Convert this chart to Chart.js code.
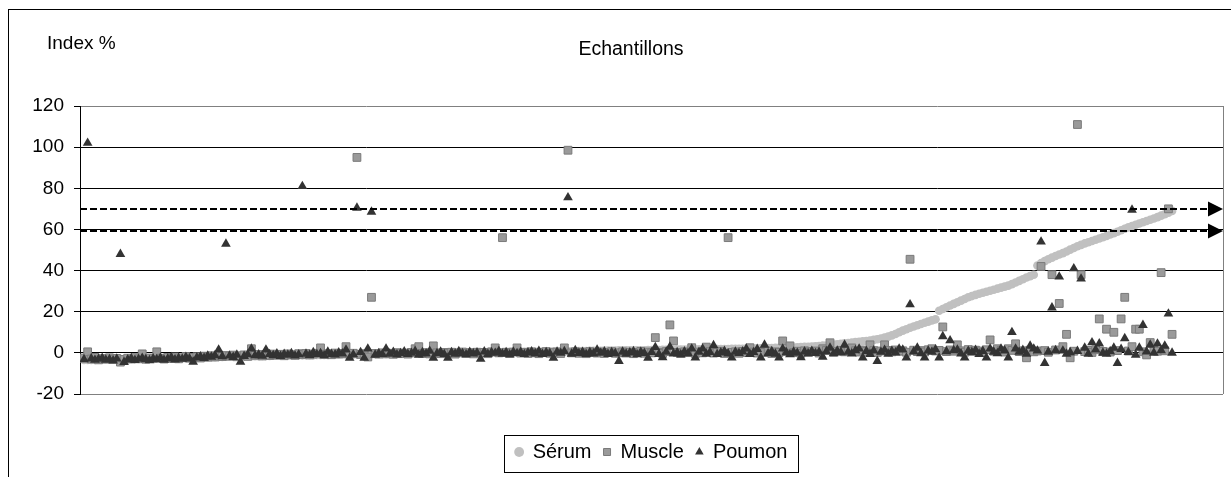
<!DOCTYPE html>
<html>
<head>
<meta charset="utf-8">
<script src="https://cdn.jsdelivr.net/npm/chart.js@4.4.0/dist/chart.umd.min.js"></script>
<style>
  html, body { margin: 0; padding: 0; background: #fff; }
  #wrap { width: 1231px; height: 477px; position: relative; }
</style>
</head>
<body>
<div id="wrap"><canvas id="myChart" width="1231" height="477"></canvas></div>
<script>
// samples 1..300, sorted by serum index
const samples = Array.from({ length: 300 }, (_, i) => i + 1);

const serum = [
  -3.5,-3.5,-3.4,-3.4,-3.3,-3.3,-3.3,-3.2,-3.2,-3.2,
  -3.1,-3.1,-3.1,-3.0,-3.0,-3.0,-2.9,-2.9,-2.9,-2.8,
  -2.8,-2.8,-2.7,-2.7,-2.6,-2.6,-2.6,-2.5,-2.5,-2.4,
  -2.4,-2.3,-2.3,-2.2,-2.2,-2.1,-2.1,-2.0,-2.0,-1.9,
  -1.9,-1.8,-1.8,-1.8,-1.7,-1.7,-1.6,-1.6,-1.6,-1.5,
  -1.5,-1.5,-1.4,-1.4,-1.4,-1.3,-1.3,-1.3,-1.2,-1.2,
  -1.2,-1.1,-1.1,-1.1,-1.0,-1.0,-1.0,-1.0,-0.9,-0.9,
  -0.9,-0.8,-0.8,-0.8,-0.8,-0.7,-0.7,-0.7,-0.6,-0.6,
  -0.6,-0.6,-0.5,-0.5,-0.5,-0.5,-0.4,-0.4,-0.4,-0.4,
  -0.3,-0.3,-0.3,-0.3,-0.2,-0.2,-0.2,-0.2,-0.1,-0.1,
  -0.1,-0.1,0.0,0.0,0.0,0.0,0.1,0.1,0.1,0.1,
  0.2,0.2,0.2,0.2,0.3,0.3,0.3,0.3,0.4,0.4,
  0.4,0.4,0.5,0.5,0.5,0.5,0.6,0.6,0.6,0.7,
  0.7,0.7,0.7,0.8,0.8,0.8,0.9,0.9,0.9,1.0,
  1.0,1.0,1.0,1.1,1.1,1.1,1.1,1.2,1.2,1.2,
  1.2,1.3,1.3,1.3,1.3,1.4,1.4,1.4,1.4,1.5,
  1.5,1.5,1.5,1.6,1.6,1.6,1.6,1.7,1.7,1.7,
  1.7,1.8,1.8,1.8,1.8,1.9,1.9,1.9,2.0,2.0,
  2.0,2.0,2.1,2.1,2.1,2.2,2.2,2.2,2.3,2.3,
  2.4,2.4,2.5,2.5,2.6,2.6,2.7,2.8,2.9,3.0,
  3.1,3.2,3.3,3.5,3.6,3.8,4.0,4.2,4.4,4.6,
  4.8,5.0,5.2,5.4,5.6,5.8,6.0,6.3,6.6,7.0,
  7.4,7.9,8.5,9.2,10.0,10.8,11.5,12.2,12.8,13.4,
  14.0,14.6,15.2,15.8,16.3,20.5,21.3,22.2,23.0,23.8,
  24.6,25.4,26.2,27.0,27.6,28.2,28.7,29.2,29.7,30.2,
  30.7,31.2,31.7,32.2,32.7,33.4,34.2,35.0,35.8,36.6,
  37.3,38.0,42.5,43.6,44.6,45.5,46.3,47.1,47.8,48.5,
  49.3,50.2,51.0,51.8,52.5,53.2,53.8,54.4,55.0,55.6,
  56.2,56.8,57.5,58.2,58.9,59.6,60.3,61.0,61.7,62.3,
  62.9,63.5,64.1,64.7,65.3,66.0,66.7,67.4,68.1,69.0
];

const muscle = [
  -2.5,0.5,-3.0,-2.2,-3.4,-2.8,-3.0,-2.4,-3.1,-2.7,
  -4.5,-3.2,-2.6,-3.0,-2.3,-2.9,-0.5,-3.1,-2.5,-2.8,
  0.5,-2.6,-3.0,-2.2,-2.7,-2.0,-2.9,-2.4,-1.8,-2.6,
  -2.2,-1.9,-2.5,-1.6,-2.1,-1.4,-2.0,-1.2,-1.8,-1.3,
  -1.6,-1.1,-1.9,-1.4,-1.0,-1.7,2.0,-1.2,-0.8,-1.5,
  -0.9,-1.3,-0.6,-1.1,-0.7,-1.4,-0.5,-0.9,-1.2,-0.4,
  -0.8,-0.3,-1.0,-0.6,-0.2,2.4,-0.7,-0.4,-0.9,-0.1,
  -0.5,-0.3,3.0,-0.6,-0.2,95,-0.8,-0.4,-2.0,27,
  -0.3,-0.6,0.0,-0.5,-0.2,-0.7,0.1,-0.4,-0.1,-0.6,
  0.2,2.0,3.0,-0.3,0.1,-0.5,3.4,0.0,-0.4,0.2,
  -0.2,0.3,-0.6,0.0,0.4,-0.3,0.1,-0.5,0.3,-0.1,
  0.2,-0.4,0.5,2.4,0.0,56,0.3,-0.2,0.4,2.4,
  -0.1,0.3,-0.3,0.5,0.0,-0.4,0.2,0.6,-0.2,0.1,
  0.4,-0.3,2.4,98.5,0.0,0.5,-0.2,0.3,-0.4,0.6,
  0.1,-0.1,0.4,-0.3,0.2,0.6,-0.2,0.0,0.5,-0.1,
  0.3,-0.4,0.2,0.7,-0.2,0.4,0.0,7.4,0.3,-0.3,
  0.6,13.6,5.8,0.2,-0.2,0.5,0.1,2.5,-0.3,0.4,
  0.0,2.8,0.6,-0.1,0.3,0.8,-0.3,56,0.2,0.5,
  -0.2,0.7,0.1,2.5,0.4,-0.1,0.6,0.2,0.9,-0.3,
  0.5,0.2,5.8,0.7,3.4,0.1,0.8,-0.2,1.0,0.4,
  0.6,0.9,-0.1,2.0,1.1,4.9,0.3,0.8,1.2,0.5,
  0.9,2.4,1.0,0.4,1.3,0.7,3.9,1.1,0.2,0.9,
  3.9,1.2,0.5,1.4,0.8,1.0,0.3,45.5,1.3,0.6,
  1.1,0.4,1.5,2.0,0.9,1.2,12.6,0.6,1.4,0.8,
  3.9,1.0,0.3,1.6,0.7,1.3,0.9,0.2,1.5,6.3,
  0.8,2.0,1.1,0.4,2.0,1.2,4.4,0.6,1.0,-2.4,
  1.3,0.5,0.9,42,1.1,0.3,38,1.4,24,3.0,
  9.0,-2.4,0.8,111,38,0.6,1.2,0.2,1.5,16.5,
  0.7,11.5,0.4,10.0,1.1,16.5,27,0.9,3.0,11.5,
  11.5,0.5,-1.0,5.0,1.3,0.8,39,1.0,70,9.0
];

const poumon = [
  -3.2,102,-2.8,-3.5,-3.0,-2.6,-3.4,-3.1,-3.8,-2.9,
  48,-4.5,-3.3,-2.7,-3.6,-3.0,-2.5,-3.2,-3.7,-2.8,
  -3.1,-2.4,-3.5,-2.9,-2.2,-3.3,-2.6,-3.0,-2.1,-2.8,
  -4.4,-2.3,-1.8,-2.6,-1.5,-2.0,-1.2,1.5,-1.7,53,
  -1.4,-2.1,-1.0,-4.4,-1.6,-0.8,2.0,-1.3,-0.9,-1.5,
  1.5,-0.7,-1.2,-0.4,-1.6,-0.6,-1.0,-0.3,-1.4,-0.8,
  81,-0.5,-1.1,0.2,-0.7,-0.2,-1.3,0.5,-0.6,-0.9,
  0.1,-0.4,1.5,-2.5,-0.8,70.5,0.3,-2.5,2.0,68.5,
  -1.0,-0.3,-0.7,2.0,-0.5,0.4,-0.9,-0.2,0.6,-0.6,
  -0.1,0.8,-1.0,0.3,-0.4,0.9,-2.5,-0.3,0.5,-0.7,
  -2.5,0.2,-0.5,0.7,-0.2,-0.8,0.4,-0.4,0.1,-3.0,
  0.6,-0.6,0.2,-0.1,0.8,-0.5,0.3,-0.9,0.5,-0.2,
  0.4,-0.7,0.1,0.6,-0.4,0.9,-0.6,0.2,-0.3,-2.5,
  0.5,-0.1,0.7,75.5,-0.5,1.2,-0.2,0.4,-0.7,0.3,
  -0.4,1.5,-0.1,0.6,-0.6,0.2,-0.3,-4.0,0.5,-0.5,
  0.1,0.7,-0.8,0.4,-0.2,-2.5,0.3,2.7,-0.6,-2.2,
  0.5,2.9,-0.4,0.2,-0.9,0.6,-0.3,2.0,-2.4,0.4,
  2.0,-0.5,0.3,3.6,-0.7,0.1,0.8,-0.4,-2.4,0.5,
  -0.2,0.6,2.0,-0.6,0.3,1.8,-2.4,3.9,-0.3,0.7,
  -0.5,-2.4,2.0,0.2,-0.8,0.5,-0.1,-2.2,0.6,-0.4,
  0.9,-0.2,0.4,-2.0,0.7,2.4,-0.3,1.0,0.2,3.9,
  0.5,-0.4,1.2,2.0,-2.4,0.8,-0.6,1.1,-4.0,0.4,
  1.4,-0.5,0.9,0.1,2.0,1.5,-2.4,23.5,0.6,2.4,
  -0.3,-2.4,1.0,0.4,1.6,-2.4,8.0,0.7,6.0,1.2,
  1.5,-0.4,-2.4,0.9,0.3,1.4,-0.6,0.8,-2.4,2.0,
  0.5,-0.3,2.0,1.1,-2.4,10.0,2.0,0.4,1.3,-0.5,
  3.4,2.0,1.0,54,-5.0,0.5,22,1.2,37,1.0,
  -0.5,0.2,41,0.8,36,2.4,-0.5,5.0,1.5,4.5,
  0.0,-0.5,0.7,2.4,-5.0,1.8,7.0,0.3,69.5,-1.0,
  2.4,13.5,0.6,3.9,0.0,4.4,1.2,3.4,19,0.0
];

const seriesNames = ["Sérum", "Muscle", "Poumon"];
const thresholds = [70, 59];
const yTicks = [-20, 0, 20, 40, 60, 80, 100, 120];

const FONT = "'Liberation Sans', Arial, sans-serif";

function toPoints(values) {
  return values.map((v, i) => ({ x: samples[i], y: v }));
}

// white background + outer frame + the two header texts
const framePlugin = {
  id: "frame",
  beforeDraw(chart) {
    const c = chart.ctx;
    c.save();
    c.fillStyle = "#fff";
    c.fillRect(0, 0, chart.width, chart.height);
    c.strokeStyle = "#000";
    c.lineWidth = 1;
    c.strokeRect(8.5, 9.5, 1300, 600);
    c.fillStyle = "#000";
    c.textBaseline = "middle";
    c.font = "19px " + FONT;
    c.textAlign = "left";
    c.fillText("Index %", 47, 44);
    c.font = "19.5px " + FONT;
    c.textAlign = "center";
    c.fillText("Echantillons", 631, 50);
    c.restore();
  },
  beforeDatasetsDraw(chart) {
    const a = chart.chartArea;
    const c = chart.ctx;
    c.save();
    c.strokeStyle = "#808080";
    c.lineWidth = 1;
    c.beginPath();
    c.moveTo(Math.round(a.right) + 0.5, a.top);
    c.lineTo(Math.round(a.right) + 0.5, a.bottom);
    c.stroke();
    c.restore();
  },
  afterDatasetsDraw(chart) {
    // dashed threshold lines with arrow heads
    const a = chart.chartArea;
    const y = chart.scales.y;
    const c = chart.ctx;
    c.save();
    thresholds.forEach((t) => {
      const py = Math.round(y.getPixelForValue(t));
      c.strokeStyle = "#000";
      c.lineWidth = 2;
      c.setLineDash([7, 3]);
      c.beginPath();
      c.moveTo(a.left, py);
      c.lineTo(a.right - 14, py);
      c.stroke();
      c.setLineDash([]);
      c.fillStyle = "#000";
      c.beginPath();
      c.moveTo(a.right, py);
      c.lineTo(a.right - 15, py - 7.5);
      c.lineTo(a.right - 15, py + 7.5);
      c.closePath();
      c.fill();
    });
    c.restore();
  },
  afterDraw(chart) {
    // box round the legend
    const boxes = chart.legend && chart.legend.legendHitBoxes;
    if (!boxes || !boxes.length) return;
    const first = boxes[0];
    const last = boxes[boxes.length - 1];
    const c = chart.ctx;
    c.save();
    c.strokeStyle = "#000";
    c.lineWidth = 1;
    const left = Math.round(first.left - 12) + 0.5;
    const right = Math.round(last.left + last.width + 11) + 0.5;
    const top = Math.round(first.top - 7) + 0.5;
    const bottom = Math.round(first.top + first.height + 10) + 0.5;
    c.strokeRect(left, top, right - left, bottom - top);
    c.restore();
  }
};

const ctx = document.getElementById("myChart").getContext("2d");

new Chart(ctx, {
  type: "scatter",
  data: {
    datasets: [
      {
        label: seriesNames[0],
        data: toPoints(serum),
        pointStyle: "circle",
        pointRadius: 4.3,
        backgroundColor: "#c0c0c0",
        borderColor: "#c0c0c0",
        borderWidth: 0,
        order: 3
      },
      {
        label: seriesNames[1],
        data: toPoints(muscle),
        pointStyle: "rect",
        pointRadius: 5.5,
        backgroundColor: "#9a9a9a",
        borderColor: "#7a7a7a",
        borderWidth: 1,
        order: 2
      },
      {
        label: seriesNames[2],
        data: toPoints(poumon),
        pointStyle: "triangle",
        pointRadius: 5.6,
        backgroundColor: "#333333",
        borderColor: "#333333",
        borderWidth: 0,
        order: 1
      }
    ]
  },
  options: {
    responsive: false,
    animation: false,
    events: [],
    layout: { padding: { left: 8, right: 8, top: 106, bottom: 5 } },
    scales: {
      x: {
        type: "linear",
        min: -0.1,
        max: 314,
        display: true,
        grid: { display: false },
        border: { display: false },
        ticks: { display: false },
        afterFit(scale) { scale.height = 36; }
      },
      y: {
        min: -20,
        max: 120,
        afterBuildTicks(scale) {
          scale.ticks = yTicks.map((v) => ({ value: v }));
        },
        afterFit(scale) { scale.width = 72; },
        grid: {
          color: (c) => (c.tick && (c.tick.value === 120 || c.tick.value === -20)) ? "#808080" : "#000",
          tickColor: "#000",
          tickLength: 6,
          lineWidth: 1
        },
        border: { display: true, color: "#000", width: 1 },
        ticks: {
          color: "#000",
          padding: 10,
          font: { family: FONT, size: 19 }
        }
      }
    },
    plugins: {
      legend: {
        display: true,
        position: "bottom",
        fullSize: false,
        labels: {
          usePointStyle: true,
          boxWidth: 7,
          boxHeight: 7,
          padding: 12,
          color: "#000",
          font: { family: FONT, size: 20 },
          sort: (a, b) => a.datasetIndex - b.datasetIndex
        }
      },
      tooltip: { enabled: false },
      title: { display: false }
    }
  },
  plugins: [framePlugin]
});
</script>
</body>
</html>
